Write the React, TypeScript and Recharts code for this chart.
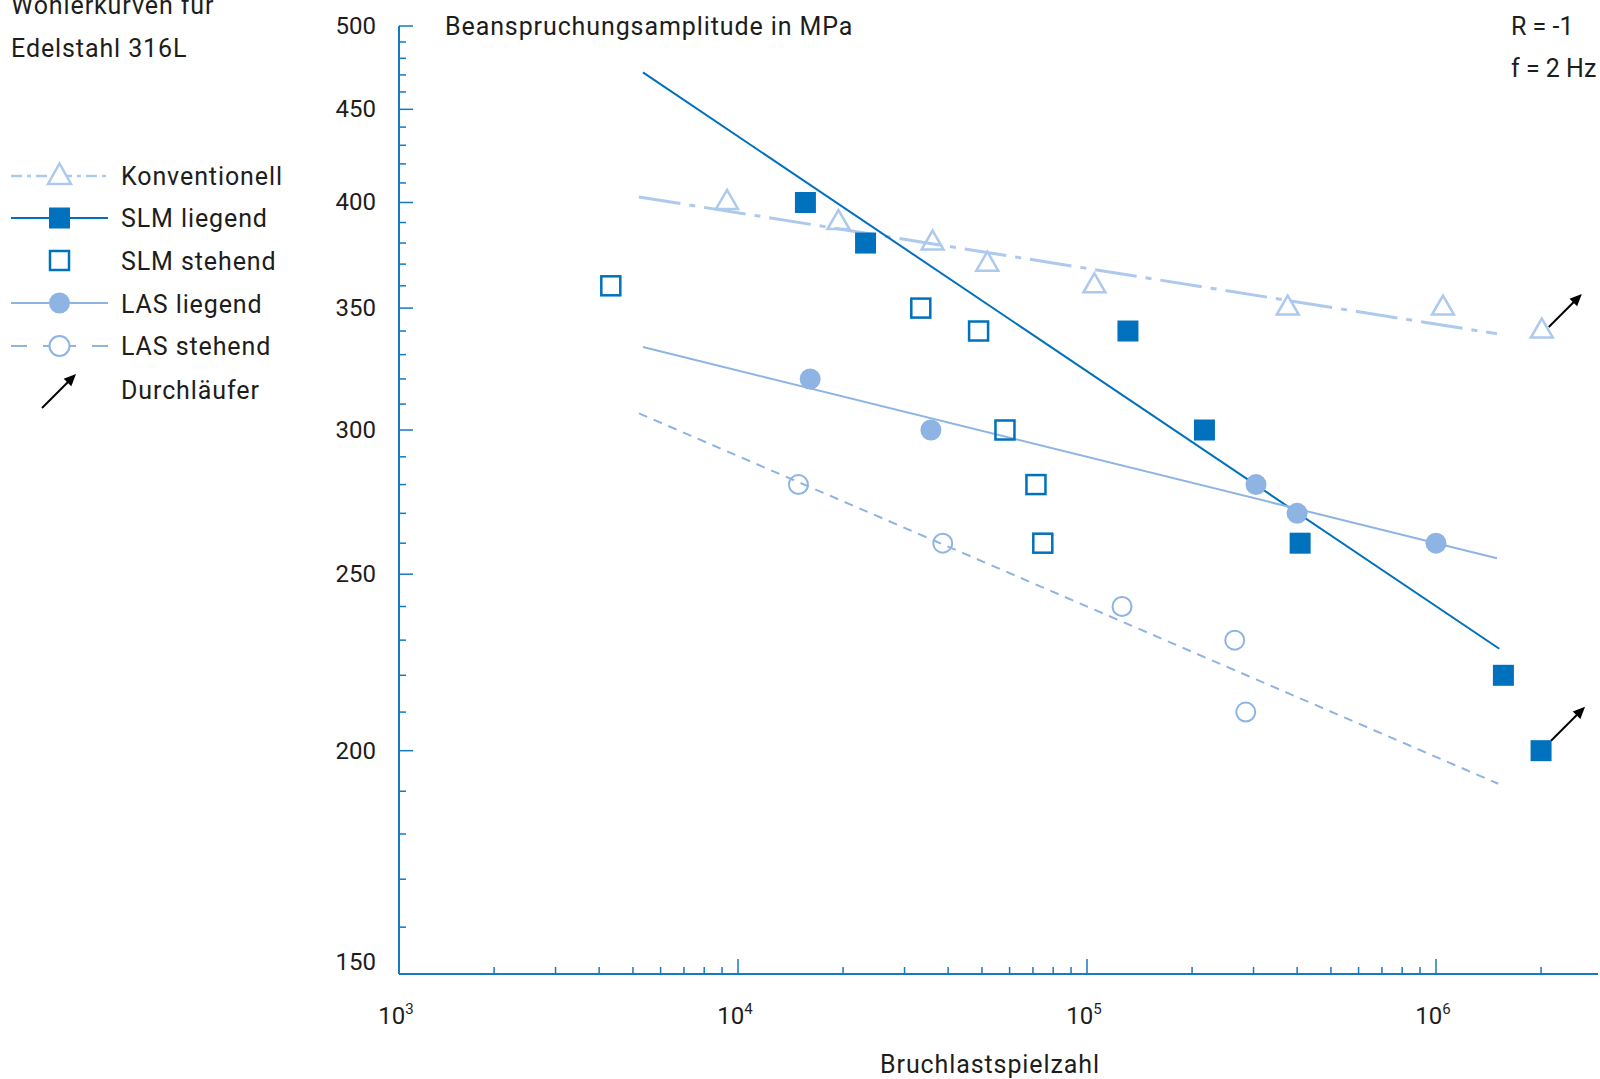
import React from 'react';
import { ScatterChart, Scatter, XAxis, YAxis } from 'recharts';

const SLM = '#0071bc';
const LAS = '#8db4e2';
const KONV = '#adc9ed';
const AXIS = '#1479c2';
const TEXT = '#1d1d1b';
const FONT = 'Roboto, "DejaVu Sans", sans-serif';

// Bruchlastspielzahl N und Beanspruchungsamplitude S (MPa)
const konvN = [9300, 19400, 36100, 51800, 105000, 376000, 1047000, 2010000];
const konvS = [400, 390, 380, 370, 360, 350, 350, 340];
const konvRunout = [false, false, false, false, false, false, false, true];

const slmLiegendN = [15600, 23200, 131000, 217000, 408000, 1560000, 2000000];
const slmLiegendS = [400, 380, 340, 300, 260, 220, 200];
const slmLiegendRunout = [false, false, false, false, false, false, true];

const slmStehendN = [4320, 33400, 48900, 58200, 71400, 74700];
const slmStehendS = [360, 350, 340, 300, 280, 260];

const lasLiegendN = [16100, 35700, 305000, 400000, 1000000];
const lasLiegendS = [320, 300, 280, 270, 260];

const lasStehendN = [14900, 38600, 126000, 265000, 285000];
const lasStehendS = [280, 260, 240, 230, 210];

// Ausgleichsgeraden: Anfangs- und Endpunkt
const slmFitN = [5340, 1518000];
const slmFitS = [471.5, 227.5];
const konvFitN = [5200, 1495000];
const konvFitS = [402.8, 338.8];
const lasLiegendFitN = [5340, 1495000];
const lasLiegendFitS = [333.2, 255.1];
const lasStehendFitN = [5200, 1508000];
const lasStehendFitS = [306.4, 191.8];

const xDomain = [1068, 2912000];
const yDomain = [150.8, 500];

const xTicks = [
  1068, 2000, 3000, 4000, 5000, 6000, 7000, 8000, 9000,
  10000, 20000, 30000, 40000, 50000, 60000, 70000, 80000, 90000,
  100000, 200000, 300000, 400000, 500000, 600000, 700000, 800000, 900000,
  1000000, 2000000,
];
const xMajor: Record<number, string> = { 1068: '3', 10000: '4', 100000: '5', 1000000: '6' };

const yTicks = [
  150.8, 160, 170, 180, 190, 200, 210, 220, 230, 240, 250, 260, 270, 280, 290,
  300, 310, 320, 330, 340, 350, 360, 370, 380, 390, 400, 410, 420, 430, 440,
  450, 460, 470, 480, 490, 500,
];
const yMajor: Record<number, string> = {
  150.8: '150', 200: '200', 250: '250', 300: '300', 350: '350', 400: '400', 450: '450', 500: '500',
};

const pts = (n: number[], s: number[], r?: boolean[]) =>
  n.map((x, i) => ({ x, y: s[i], runout: r ? r[i] : false }));

const Arrow = ({ x, y, tx, ty }: { x: number; y: number; tx: number; ty: number }) => {
  const bx = tx - 8.5;
  const by = ty + 8.5;
  return (
    <g>
      <line x1={x} y1={y} x2={bx + 1} y2={by - 1} stroke="#000" strokeWidth={2} />
      <polygon points={`${tx},${ty} ${bx + 3.8},${by + 3.8} ${bx - 3.8},${by - 3.8}`} fill="#000" />
    </g>
  );
};

const Triangle = (p: any) => {
  const { cx, cy, payload } = p;
  return (
    <g>
      <polygon
        points={`${cx},${cy - 12.5} ${cx + 11},${cy + 6.5} ${cx - 11},${cy + 6.5}`}
        fill="none"
        stroke={KONV}
        strokeWidth={2.5}
      />
      {payload.runout && <Arrow x={cx + 7} y={cy - 4} tx={cx + 40} ty={cy - 37} />}
    </g>
  );
};

const FilledSquare = (p: any) => {
  const { cx, cy, payload } = p;
  return (
    <g>
      <rect x={cx - 10.5} y={cy - 10.5} width={21} height={21} fill={SLM} />
      {payload.runout && <Arrow x={cx + 10} y={cy - 10} tx={cx + 44} ty={cy - 44} />}
    </g>
  );
};

const OpenSquare = (p: any) => (
  <rect x={p.cx - 9.5} y={p.cy - 9.5} width={19} height={19} fill="none" stroke={SLM} strokeWidth={2.5} />
);

const FilledCircle = (p: any) => <circle cx={p.cx} cy={p.cy} r={10.5} fill={LAS} />;

const OpenCircle = (p: any) => (
  <circle cx={p.cx} cy={p.cy} r={9.5} fill="none" stroke={LAS} strokeWidth={2} />
);

const NoDot = () => <g />;

const XTick = (p: any) => {
  const { x, y, payload } = p;
  const exp = xMajor[payload.value];
  const first = payload.value === xDomain[0];
  const len = exp ? 15 : 7;
  return (
    <g>
      {!first && <line x1={x} y1={y} x2={x} y2={y - len} stroke={AXIS} strokeWidth={1.5} />}
      {exp && (
        <text x={x - 3} y={y + 50} textAnchor="middle" fontSize={24} fill={TEXT} fontFamily={FONT}>
          10
          <tspan dy={-10} fontSize={15}>{exp}</tspan>
        </text>
      )}
    </g>
  );
};

const YTick = (p: any) => {
  const { x, y, payload } = p;
  const label = yMajor[payload.value];
  const first = payload.value === yDomain[0];
  const len = label ? 14 : 7;
  return (
    <g>
      {!first && <line x1={x} y1={y} x2={x + len} y2={y} stroke={AXIS} strokeWidth={1.5} />}
      {label && (
        <text
          x={x - 23}
          y={first ? y - 12 : y}
          textAnchor="end"
          dominantBaseline="central"
          fontSize={24}
          fill={TEXT}
          fontFamily={FONT}
        >
          {label}
        </text>
      )}
    </g>
  );
};

const txt = {
  fontSize: 25,
  letterSpacing: 0.9,
  fill: TEXT,
  fontFamily: FONT,
  dominantBaseline: 'central' as const,
};

const Overlay = () => (
  <svg
    width={1600}
    height={1079}
    style={{ position: 'absolute', left: 0, top: 0, pointerEvents: 'none' }}
  >
    <text x={11} y={5} {...txt}>Wöhlerkurven für</text>
    <text x={11} y={48} {...txt}>Edelstahl 316L</text>

    {/* Legende */}
    <line x1={11} y1={176} x2={108} y2={176} stroke={KONV} strokeWidth={2.5} strokeDasharray="11 5 4 5" />
    <polygon points="59.5,163.5 71,184 48,184" fill="#fff" stroke={KONV} strokeWidth={2.5} />
    <text x={121} y={176.5} {...txt}>Konventionell</text>

    <line x1={11} y1={218} x2={108} y2={218} stroke={SLM} strokeWidth={2} />
    <rect x={49} y={207.5} width={21} height={21} fill={SLM} />
    <text x={121} y={218} {...txt}>SLM liegend</text>

    <rect x={50} y={251} width={19} height={19} fill="none" stroke={SLM} strokeWidth={2.5} />
    <text x={121} y={261} {...txt}>SLM stehend</text>

    <line x1={11} y1={303} x2={108} y2={303} stroke={LAS} strokeWidth={2} />
    <circle cx={59.5} cy={303} r={10.5} fill={LAS} />
    <text x={121} y={304} {...txt}>LAS liegend</text>

    <line x1={11} y1={346} x2={27} y2={346} stroke={LAS} strokeWidth={2} />
    <line x1={43} y1={346} x2={76} y2={346} stroke={LAS} strokeWidth={2} />
    <line x1={92} y1={346} x2={108} y2={346} stroke={LAS} strokeWidth={2} />
    <circle cx={59.5} cy={346} r={10} fill="#fff" stroke={LAS} strokeWidth={2} />
    <text x={121} y={346} {...txt}>LAS stehend</text>

    <Arrow x={42} y={408} tx={76} ty={374} />
    <text x={121} y={390} {...txt}>Durchläufer</text>

    <text x={445} y={26} {...txt}>Beanspruchungsamplitude in MPa</text>
    <text x={1511} y={26} {...txt} letterSpacing={0}>R = -1</text>
    <text x={1511} y={68} {...txt} letterSpacing={0}>f = 2 Hz</text>
    <text x={990} y={1064} textAnchor="middle" {...txt}>Bruchlastspielzahl</text>
  </svg>
);

export default function App() {
  return (
    <div style={{ position: 'absolute', left: 0, top: 0, width: 1600, height: 1079, background: '#fff' }}>
      <ScatterChart width={1600} height={1079} margin={{ top: 26, right: 2, left: 0, bottom: 0 }}>
        <XAxis
          type="number"
          dataKey="x"
          scale="log"
          domain={xDomain}
          ticks={xTicks}
          interval={0}
          allowDataOverflow
          height={105}
          tickSize={0}
          tickMargin={0}
          tickLine={false}
          axisLine={{ stroke: AXIS, strokeWidth: 2 }}
          tick={<XTick />}
        />
        <YAxis
          type="number"
          dataKey="y"
          scale="log"
          domain={yDomain}
          ticks={yTicks}
          interval={0}
          allowDataOverflow
          width={399}
          tickSize={0}
          tickMargin={0}
          tickLine={false}
          axisLine={{ stroke: AXIS, strokeWidth: 2 }}
          tick={<YTick />}
        />

        <Scatter data={pts(konvFitN, konvFitS)} line={{ stroke: KONV, strokeWidth: 3, strokeDasharray: '42 9 6 9' }} shape={NoDot} isAnimationActive={false} />
        <Scatter data={pts(slmFitN, slmFitS)} line={{ stroke: SLM, strokeWidth: 2 }} shape={NoDot} isAnimationActive={false} />
        <Scatter data={pts(lasLiegendFitN, lasLiegendFitS)} line={{ stroke: LAS, strokeWidth: 2 }} shape={NoDot} isAnimationActive={false} />
        <Scatter data={pts(lasStehendFitN, lasStehendFitS)} line={{ stroke: LAS, strokeWidth: 2, strokeDasharray: '9 7' }} shape={NoDot} isAnimationActive={false} />

        <Scatter data={pts(konvN, konvS, konvRunout)} shape={Triangle} isAnimationActive={false} />
        <Scatter data={pts(slmLiegendN, slmLiegendS, slmLiegendRunout)} shape={FilledSquare} isAnimationActive={false} />
        <Scatter data={pts(slmStehendN, slmStehendS)} shape={OpenSquare} isAnimationActive={false} />
        <Scatter data={pts(lasLiegendN, lasLiegendS)} shape={FilledCircle} isAnimationActive={false} />
        <Scatter data={pts(lasStehendN, lasStehendS)} shape={OpenCircle} isAnimationActive={false} />
      </ScatterChart>
      <Overlay />
    </div>
  );
}
